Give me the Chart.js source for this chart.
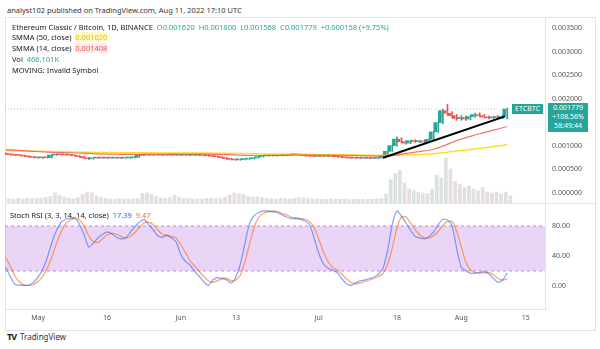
<!DOCTYPE html>
<html>
<head>
<meta charset="utf-8">
<script src="https://cdn.jsdelivr.net/npm/chart.js@4.4.0/dist/chart.umd.min.js"></script>
<style>
  body { margin: 0; width: 600px; height: 349px; background: #fff; position: relative; overflow: hidden; font-family: "Noto Sans", sans-serif; color: #131722; }
  .txt { position: absolute; white-space: nowrap; font-size: 7.5px; line-height: 10px; }
  .up { color: #26a69a; }
  canvas { position: absolute; }
  #frame { position: absolute; left: 5px; top: 17px; width: 589px; height: 312px; border: 1px solid #e0e3eb; }
  #sep { position: absolute; left: 5px; top: 203px; width: 590px; height: 1px; background: #e0e3eb; }
  .box { position: absolute; background: #26a69a; color: #fff; font-size: 7px; line-height: 9px; text-align: center; }
</style>
</head>
<body>
<div class="txt" style="left:7px;top:5px;color:#333;">analyst102 published on TradingView.com, Aug 11, 2022 17:10 UTC</div>
<div id="frame"></div>
<canvas id="priceChart" width="595" height="186" style="left:5px;top:17px;"></canvas>
<div id="sep"></div>
<canvas id="stochChart" width="595" height="127" style="left:5px;top:203px;"></canvas>

<div class="txt" style="left:12px;top:22px;">Ethereum Classic / Bitcoin, 1D, BINANCE&nbsp; <span class="up">O0.001620&nbsp; H0.001800&nbsp; L0.001568&nbsp; C0.001779&nbsp; +0.000158 (+9.75%)</span></div>
<div class="txt" style="left:12px;top:32px;">SMMA (50, close)&nbsp; <span style="color:#e6b800;background:rgba(255,235,59,0.3);">0.001020</span></div>
<div class="txt" style="left:12px;top:43px;">SMMA (14, close)&nbsp; <span style="color:#ef5350;background:rgba(239,83,80,0.12);">0.001408</span></div>
<div class="txt" style="left:12px;top:54px;">Vol&nbsp; <span class="up">466.101K</span></div>
<div class="txt" style="left:12px;top:65px;">MOVING: Invalid Symbol</div>
<div class="txt" style="left:10px;top:210px;">Stoch RSI (3, 3, 14, 14, close)&nbsp; <span style="color:#2962ff;">17.39</span>&nbsp; <span style="color:#ff6d00;">9.47</span></div>

<div class="box" style="left:512px;top:104px;width:31px;height:10px;">ETCBTC</div>
<div class="box" style="left:548px;top:103px;width:40px;height:29px;">0.001779<br>+108.56%<br>58:49:44</div>

<div class="txt" style="left:7px;top:332px;font-size:9px;font-weight:bold;letter-spacing:-1px;">TV</div>
<div class="txt" style="left:20px;top:332px;font-size:8px;color:#333;">TradingView</div>

<script>
// days counted from May 1, 2022 (Apr 24 = -7 ... Aug 11 = 102)
const firstDay = -7;
const xMin = -7.2;
const xMax = 110.2;

// time axis labels
const tickDays = [0, 15, 31, 43, 61, 78, 92, 106];
const tickLabels = ['May', '16', 'Jun', '13', 'Jul', '18', 'Aug', '15'];

// prices in millionths of a BTC
const opens = [840, 820, 810, 800, 796, 780, 765,
  752, 742, 746, 744, 800, 812, 808, 805, 802, 790,
  768, 742, 722, 736, 742, 738, 741, 737, 740, 736,
  739, 742, 752, 795, 806, 803, 806, 802, 805, 801,
  804, 800, 803, 799, 802, 798, 800, 795, 786, 778,
  765, 748, 725, 708, 698, 706, 714, 724, 742, 765,
  785, 790, 786, 792, 788, 798, 815, 812, 806, 788,
  780, 775, 780, 776, 779, 774, 766, 755, 745, 740,
  737, 734, 738, 733, 730, 740, 790, 880, 1000, 1140,
  1085, 1055, 1105, 1088, 1095, 1080, 1135, 1295, 1490, 1745,
  1690, 1640, 1580, 1600, 1568, 1620, 1660, 1640, 1612, 1592,
  1612, 1600, 1621];
const highs = [850, 830, 818, 812, 805, 790, 772,
  760, 752, 756, 810, 820, 822, 816, 814, 808, 795,
  775, 750, 745, 748, 750, 748, 750, 746, 748, 744,
  748, 760, 805, 815, 818, 812, 815, 810, 814, 810,
  812, 808, 811, 808, 810, 806, 808, 800, 792, 785,
  770, 755, 732, 715, 712, 720, 730, 748, 772, 792,
  798, 800, 796, 800, 805, 822, 828, 825, 812, 795,
  790, 786, 790, 786, 788, 782, 772, 762, 752, 750,
  746, 745, 748, 742, 745, 800, 895, 1010, 1190, 1170,
  1110, 1120, 1130, 1115, 1110, 1150, 1310, 1500, 1780, 1880,
  1725, 1665, 1640, 1630, 1650, 1695, 1700, 1665, 1632, 1630,
  1640, 1650, 1800];
const lows = [815, 805, 795, 790, 775, 760, 745,
  735, 730, 736, 740, 792, 800, 798, 796, 785, 760,
  735, 705, 712, 728, 732, 730, 733, 728, 732, 728,
  730, 736, 748, 786, 796, 794, 798, 793, 796, 792,
  795, 790, 794, 790, 792, 788, 790, 780, 772, 760,
  740, 715, 698, 690, 690, 700, 708, 718, 736, 758,
  776, 780, 778, 782, 782, 792, 805, 800, 780, 770,
  768, 766, 768, 765, 768, 760, 748, 738, 732, 730,
  726, 725, 728, 722, 720, 735, 782, 870, 990, 1060,
  1030, 1045, 1070, 1065, 1060, 1070, 1125, 1280, 1470, 1650,
  1600, 1540, 1540, 1540, 1550, 1600, 1620, 1590, 1570, 1570,
  1580, 1575, 1568];
const closes = [820, 810, 800, 796, 780, 765, 752,
  742, 746, 744, 800, 812, 808, 805, 802, 790, 768,
  742, 722, 736, 742, 738, 741, 737, 740, 736, 739,
  742, 752, 795, 806, 803, 806, 802, 805, 801, 804,
  800, 803, 799, 802, 798, 800, 795, 786, 778, 765,
  748, 725, 708, 698, 706, 714, 724, 742, 765, 785,
  790, 786, 792, 788, 798, 815, 812, 806, 788, 780,
  775, 780, 776, 779, 774, 766, 755, 745, 740, 737,
  734, 738, 733, 730, 740, 790, 880, 1000, 1140, 1085,
  1055, 1105, 1088, 1095, 1080, 1135, 1295, 1490, 1745, 1690,
  1640, 1580, 1600, 1568, 1620, 1660, 1640, 1612, 1592, 1612,
  1600, 1621, 1779];

// volume, thousands of ETC
const volumes = [280, 260, 300, 250, 320, 300, 280,
  300, 350, 420, 650, 500, 380, 300, 280, 350, 560,
  700, 650, 450, 380, 300, 260, 240, 280, 250, 230,
  260, 300, 620, 650, 560, 420, 330, 300, 350, 500,
  380, 300, 280, 260, 250, 240, 300, 320, 280, 300,
  380, 520, 650, 600, 550, 420, 380, 400, 350, 300,
  280, 260, 300, 280, 250, 300, 350, 330, 280, 260,
  250, 240, 260, 280, 250, 240, 260, 230, 250, 240,
  230, 250, 240, 260, 280, 600, 1500, 1900, 2100, 1300,
  900, 800, 700, 650, 600, 900, 1800, 1600, 2900, 2200,
  1400, 1200, 1000, 1100, 900, 800, 1000, 700, 650, 700,
  600, 700, 466];

// smoothed moving averages
const sma14Days = [-7, -2, 3, 8, 13, 18, 23, 30, 37, 41, 45, 49, 55, 62, 70, 74, 76, 78, 80, 82, 84, 86, 88, 90, 92, 94, 96, 98, 100, 102];
const sma14Values = [915, 885, 860, 845, 825, 815, 815, 822, 822, 810, 795, 792, 800, 800, 790, 778, 778, 800, 835, 865, 890, 925, 990, 1070, 1140, 1200, 1255, 1305, 1355, 1408];
const sma50Days = [-7, 0, 10, 20, 30, 40, 50, 60, 70, 74, 78, 82, 86, 88, 90, 94, 98, 102];
const sma50Values = [900, 882, 862, 852, 846, 840, 826, 812, 800, 795, 800, 812, 830, 850, 875, 920, 965, 1020];

// analyst's trend line
const trendDays = [75, 101.5];
const trendValues = [745, 1625];

const lastClose = 1779;
const priceTicks = [0, 500, 1000, 2000, 2500, 3000, 3500];

// Stoch RSI, one value per day
const stochK = [25, 12, 2, 1, 1, 1, 5,
  12, 22, 38, 58, 74, 85, 89, 90, 91, 82,
  68, 52, 57, 64, 69, 72, 70, 65, 63, 64,
  71, 79, 85, 89, 82, 75, 67, 65, 68, 64,
  59, 42, 33, 28, 20, 13, 6, 1, 8, 11,
  10, 8, 4, 12, 30, 58, 84, 94, 98, 100,
  100, 99, 98, 95, 92, 90, 90, 89, 87, 82,
  64, 44, 30, 24, 21, 18, 10, 3, 1, 4,
  7, 8, 10, 12, 16, 24, 48, 82, 100, 93,
  84, 74, 66, 64, 63, 66, 72, 82, 89, 88,
  80, 50, 25, 20, 17, 17, 18, 19, 16, 10,
  5, 8, 17.39];
const stochD = [38, 26, 13, 5, 1, 1, 2,
  6, 13, 24, 39, 57, 72, 83, 88, 90, 88,
  80, 67, 59, 58, 63, 68, 70, 69, 66, 64,
  66, 71, 78, 84, 85, 82, 75, 69, 67, 66,
  64, 55, 45, 34, 27, 20, 13, 7, 5, 7,
  10, 10, 7, 8, 15, 33, 57, 79, 92, 97,
  99, 100, 99, 97, 95, 92, 91, 90, 89, 86,
  78, 63, 46, 33, 25, 21, 16, 10, 5, 3,
  4, 6, 8, 10, 13, 17, 29, 51, 77, 92,
  92, 84, 75, 68, 64, 64, 67, 73, 81, 86,
  86, 73, 52, 32, 21, 18, 17, 18, 18, 15,
  10, 8, 9.47];
const bandUpper = 80;
const bandLower = 20;
const stochTicks = [0, 40, 80];

const upColor = '#26a69a';
const downColor = '#ef5350';

function noPad(scale) {
    scale.paddingTop = 0;
    scale.paddingBottom = 0;
    scale.paddingLeft = 0;
    scale.paddingRight = 0;
}

const isUp = closes.map((c, i) => c >= opens[i]);
const candleColors = isUp.map(u => u ? upColor : downColor);
const volColors = isUp.map(u => u ? 'rgba(160,180,176,0.38)' : 'rgba(190,168,168,0.38)');

new Chart(document.getElementById('priceChart'), {
    type: 'bar',
    data: {
        datasets: [
            {
                label: 'Vol',
                data: volumes.map((v, i) => ({ x: firstDay + i, y: v })),
                backgroundColor: volColors,
                barThickness: 3,
                yAxisID: 'yVol',
                order: 10
            },
            {
                label: 'wicks',
                data: lows.map((l, i) => ({ x: firstDay + i, y: [l, highs[i]] })),
                backgroundColor: candleColors,
                barThickness: 1,
                order: 6
            },
            {
                label: 'bodies',
                data: opens.map((o, i) => ({ x: firstDay + i, y: [o, closes[i]] })),
                backgroundColor: candleColors,
                barThickness: 3,
                minBarLength: 1,
                order: 5
            },
            {
                type: 'line',
                label: 'SMMA 50',
                data: sma50Days.map((d, i) => ({ x: d, y: sma50Values[i] })),
                borderColor: 'rgba(255,215,0,0.85)',
                borderWidth: 1.5,
                pointRadius: 0,
                tension: 0.3,
                order: 4
            },
            {
                type: 'line',
                label: 'SMMA 14',
                data: sma14Days.map((d, i) => ({ x: d, y: sma14Values[i] })),
                borderColor: 'rgba(239,83,80,0.8)',
                borderWidth: 1.2,
                pointRadius: 0,
                tension: 0.3,
                order: 3
            },
            {
                type: 'line',
                label: 'trend',
                data: trendDays.map((d, i) => ({ x: d, y: trendValues[i] })),
                borderColor: '#000',
                borderWidth: 2,
                pointRadius: 0,
                order: 2
            },
            {
                type: 'line',
                label: 'last price',
                data: [{ x: xMin, y: lastClose }, { x: xMax, y: lastClose }],
                borderColor: 'rgba(38,166,154,0.45)',
                borderWidth: 1,
                borderDash: [1, 2],
                pointRadius: 0,
                order: 1
            }
        ]
    },
    options: {
        responsive: false,
        animation: false,
        layout: { padding: 0 },
        plugins: { legend: { display: false }, tooltip: { enabled: false } },
        scales: {
            x: { type: 'linear', min: xMin, max: xMax, display: false, offset: false, grid: { display: false } },
            y: {
                position: 'right',
                min: -219,
                max: 3738,
                grid: { display: false, drawTicks: false },
                border: { display: true, color: '#e0e3eb' },
                afterBuildTicks: scale => { scale.ticks = priceTicks.map(v => ({ value: v })); },
                afterFit: scale => { scale.width = 55; noPad(scale); },
                ticks: {
                    padding: 7,
                    color: '#555',
                    font: { family: 'Noto Sans', size: 7 },
                    callback: v => (v / 1e6).toFixed(6)
                }
            },
            yVol: { display: false, min: 0, max: 12000 }
        }
    }
});

new Chart(document.getElementById('stochChart'), {
    type: 'line',
    data: {
        datasets: [
            {
                label: 'upper',
                data: [{ x: xMin, y: bandUpper }, { x: xMax, y: bandUpper }],
                borderColor: 'rgba(170,100,200,0.7)',
                borderWidth: 1,
                borderDash: [3, 3],
                backgroundColor: 'rgba(180,100,225,0.27)',
                fill: '+1',
                pointRadius: 0,
                order: 5
            },
            {
                label: 'lower',
                data: [{ x: xMin, y: bandLower }, { x: xMax, y: bandLower }],
                borderColor: 'rgba(170,100,200,0.7)',
                borderWidth: 1,
                borderDash: [3, 3],
                pointRadius: 0,
                fill: false,
                order: 4
            },
            {
                label: 'D',
                data: stochD.map((v, i) => ({ x: firstDay + i, y: v })),
                borderColor: 'rgba(255,109,0,0.6)',
                borderWidth: 1.3,
                pointRadius: 0,
                tension: 0.25,
                fill: false,
                order: 2
            },
            {
                label: 'K',
                data: stochK.map((v, i) => ({ x: firstDay + i, y: v })),
                borderColor: 'rgba(41,98,255,0.55)',
                borderWidth: 1.3,
                pointRadius: 0,
                tension: 0.25,
                fill: false,
                order: 1
            }
        ]
    },
    options: {
        responsive: false,
        animation: false,
        layout: { padding: 0 },
        plugins: { legend: { display: false }, tooltip: { enabled: false } },
        scales: {
            x: {
                type: 'linear',
                min: xMin,
                max: xMax,
                grid: { display: false, drawTicks: false },
                border: { display: true, color: '#e0e3eb' },
                afterBuildTicks: scale => { scale.ticks = tickDays.map(v => ({ value: v })); },
                afterFit: scale => { scale.height = 21; noPad(scale); },
                ticks: {
                    padding: 5,
                    maxRotation: 0,
                    autoSkip: false,
                    color: '#555',
                    font: { family: 'Noto Sans', size: 7 },
                    callback: v => tickLabels[tickDays.indexOf(v)]
                }
            },
            y: {
                position: 'right',
                min: -30.67,
                max: 110.67,
                grid: { display: false, drawTicks: false },
                border: { display: true, color: '#e0e3eb' },
                afterBuildTicks: scale => { scale.ticks = stochTicks.map(v => ({ value: v })); },
                afterFit: scale => { scale.width = 55; noPad(scale); },
                ticks: {
                    padding: 7,
                    color: '#555',
                    font: { family: 'Noto Sans', size: 7 },
                    callback: v => v.toFixed(2)
                }
            }
        }
    }
});
</script>
</body>
</html>
